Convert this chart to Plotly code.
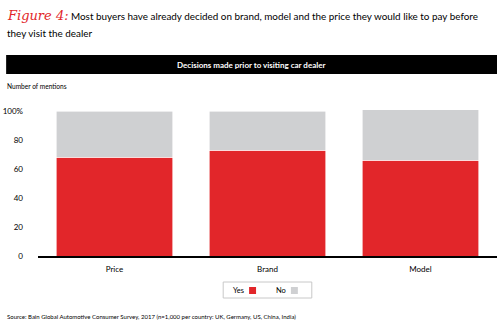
import plotly.graph_objects as go

categories = ["Price", "Brand", "Model"]
yes_vals = [68, 73, 66]
no_vals = [32, 27, 35]
tick_vals = [0, 20, 40, 60, 80, 100]
tick_text = ["0", "20", "40", "60", "80", "100%"]

RED = "#E2262A"
GRAY = "#CFD0D2"
FONT = "Lato"

W, H = 500, 328
L, R, T, B = 36, 3, 100, 72
PW = W - L - R
PH = H - T - B


def px(x):
    return (x - L) / PW


def py(y):
    return (H - B - y) / PH


fig = go.Figure()
fig.add_trace(go.Bar(x=categories, y=yes_vals, name="Yes", marker=dict(color=RED, line=dict(color="white", width=0.6))))
fig.add_trace(go.Bar(x=categories, y=no_vals, name="No", marker=dict(color=GRAY, line=dict(color="white", width=0.6))))

shapes = [
    dict(type="rect", xref="paper", yref="paper", x0=px(4), x1=px(497), y0=py(74), y1=py(55),
         fillcolor="black", line=dict(width=0), layer="above"),
    dict(type="rect", xref="paper", yref="paper", x0=px(222), x1=px(311), y0=py(298), y1=py(282),
         fillcolor="white", line=dict(color="#C8C8C8", width=1)),
    dict(type="rect", xref="paper", yref="paper", x0=px(248), x1=px(255), y0=py(294), y1=py(287),
         fillcolor=RED, line=dict(width=0)),
    dict(type="rect", xref="paper", yref="paper", x0=px(290), x1=px(297), y0=py(294), y1=py(287),
         fillcolor=GRAY, line=dict(width=0)),
]

ann = []
def text(x, y, s, size, color="black", xanchor="left", yanchor="middle", family=FONT):
    ann.append(dict(xref="paper", yref="paper", x=px(x), y=py(y), text=s, showarrow=False,
                    xanchor=xanchor, yanchor=yanchor, font=dict(size=size, color=color, family=family)))

text(3, 16, "<i>Figure 4:</i>", 13, RED, family="DejaVu Serif")
text(67, 16, "Most buyers have already decided on brand, model and the price they would like to pay before", 9.9)
text(3, 33, "they visit the dealer", 9.9)
text(250, 65, "<b>Decisions made prior to visiting car dealer</b>", 8, "white", xanchor="center")
text(3, 86, "Number of mentions", 6.6)
text(245, 290.5, "Yes", 7.5, xanchor="right")
text(287, 290.5, "No", 7.5, xanchor="right")
text(3, 316, "Source: Bain Global Automotive Consumer Survey, 2017 (n=1,000 per country: UK, Germany, US, China, India)", 6)

fig.update_layout(
    width=W, height=H,
    margin=dict(l=L, r=R, t=T, b=B),
    plot_bgcolor="white", paper_bgcolor="white",
    barmode="stack", bargap=0.24,
    showlegend=False,
    font=dict(family=FONT, size=8, color="black"),
    shapes=shapes, annotations=ann,
    xaxis=dict(showline=True, linecolor="black", linewidth=2, ticks="", showgrid=False,
               tickfont=dict(size=8), ticklabelstandoff=4),
    yaxis=dict(range=[0, PH / 1.45], tickvals=tick_vals, ticktext=tick_text, showgrid=False,
               zeroline=False, showline=False, ticks="", tickfont=dict(size=8), ticklabelstandoff=14),
)

fig.write_html("out.html")
